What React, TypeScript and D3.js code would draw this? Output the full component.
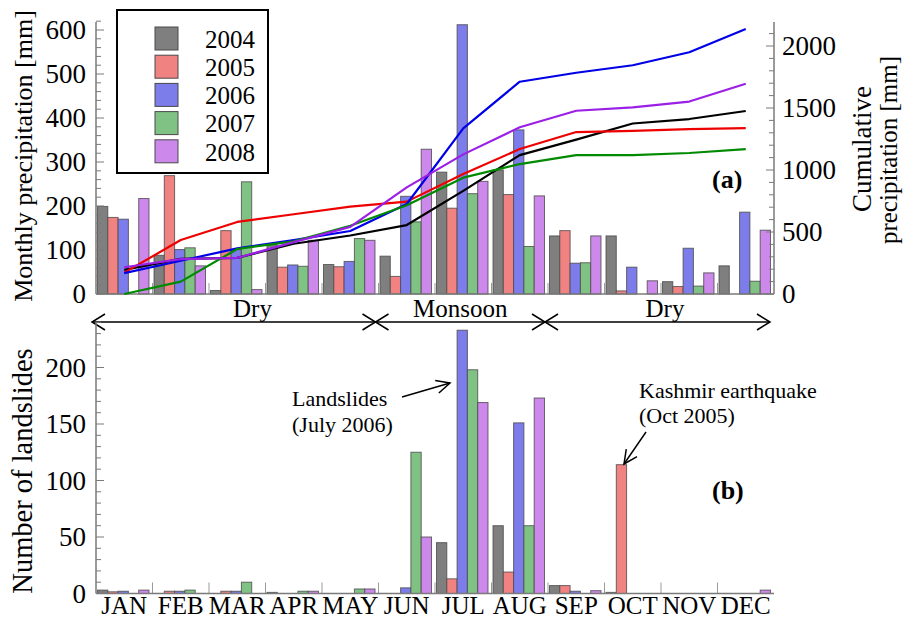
import * as d3 from 'd3';

// Monthly rainfall, cumulative rainfall and landslide counts, 2004-2008
const months = ['JAN', 'FEB', 'MAR', 'APR', 'MAY', 'JUN', 'JUL', 'AUG', 'SEP', 'OCT', 'NOV', 'DEC'];
const years = ['2004', '2005', '2006', '2007', '2008'];

const monthly2004 = [199, 88, 8, 112, 67, 86, 277, 282, 132, 132, 28, 64];
const monthly2005 = [174, 269, 144, 61, 62, 40, 195, 226, 144, 7, 17, 0];
const monthly2006 = [170, 101, 101, 66, 74, 222, 612, 373, 70, 61, 104, 186];
const monthly2007 = [0, 105, 255, 63, 126, 164, 228, 108, 71, 0, 18, 29];
const monthly2008 = [217, 64, 10, 122, 122, 329, 256, 223, 132, 30, 48, 145];

const cumul2004 = [195, 283, 291, 405, 472, 556, 832, 1120, 1245, 1375, 1411, 1476];
const cumul2005 = [172, 435, 581, 643, 705, 745, 968, 1169, 1306, 1315, 1330, 1338];
const cumul2006 = [168, 268, 368, 435, 508, 726, 1335, 1712, 1784, 1845, 1950, 2137];
const cumul2007 = [0, 100, 363, 425, 550, 716, 938, 1048, 1120, 1120, 1137, 1168];
const cumul2008 = [216, 281, 291, 418, 541, 860, 1126, 1345, 1478, 1505, 1552, 1696];

const slides2004 = [3, 0, 0, 1, 0, 0, 45, 60, 7, 1, 0, 0];
const slides2005 = [1.5, 2, 2, 0, 0, 0, 13, 19, 7, 114, 0, 0];
const slides2006 = [2, 2, 2, 0, 0, 5, 233, 151, 2, 0, 0, 0];
const slides2007 = [0, 3, 10, 2, 4, 125, 198, 60, 0, 0, 0, 0];
const slides2008 = [3, 0, 0, 2, 4, 50, 169, 173, 2.5, 0, 0, 3];

const monthlyByYear = [monthly2004, monthly2005, monthly2006, monthly2007, monthly2008];
const cumulByYear = [cumul2004, cumul2005, cumul2006, cumul2007, cumul2008];
const slidesByYear = [slides2004, slides2005, slides2006, slides2007, slides2008];

const leftTicksA = [0, 100, 200, 300, 400, 500, 600];
const rightTicksA = [0, 500, 1000, 1500, 2000];
const leftTicksB = [0, 50, 100, 150, 200];

const barFill = ['#7f7f7f', '#f08282', '#7c7cea', '#80c184', '#cc88ea'];
const lineColor = ['#000000', '#ee0000', '#0000e6', '#008a00', '#9b20e6'];

const FONT = '"Liberation Serif", "Times New Roman", serif';
const AXIS = '#7a7a7a';

const App = () => {
  const width = 906;
  const height = 619;

  const x = d3.scaleBand<string>().domain(months).range([96, 774]);
  const xi = d3.scaleBand<string>().domain(years).range([1.5, 53]);
  const mid = (m: string) => (x(m) || 0) + x.bandwidth() / 2;

  const yA = d3.scaleLinear().domain([0, 600]).range([294, 30]);
  const yR = d3.scaleLinear().domain([0, 2000]).range([294, 46]);
  const yB = d3.scaleLinear().domain([0, 200]).range([593.5, 367.5]);

  const line = d3.line<number>()
    .x((_, i) => mid(months[i]))
    .y(d => yR(d));

  const boundaries = d3.range(1, 12).map(i => x(months[i]) || 0);

  const leftAxis = (scale: d3.ScaleLinear<number, number>, top: number, max: number, step: number, majors: number[]) => (
    <g>
      <line x1={96} x2={96} y1={top} y2={scale(0)} stroke={AXIS} strokeWidth={1.5} />
      {d3.range(0, max + 0.001, step).map(v => (
        <line key={'m' + v} x1={96} x2={majors.includes(v) ? 104 : 101} y1={scale(v)} y2={scale(v)} stroke={AXIS} strokeWidth={1} />
      ))}
      {majors.map(v => (
        <text key={'t' + v} x={86} y={scale(v)} dy="0.35em" textAnchor="end" fontSize={27}>{v}</text>
      ))}
    </g>
  );

  const bars = (data: number[][], scale: d3.ScaleLinear<number, number>) =>
    data.map((vals, yi) =>
      vals.map((v, mi) => v > 0 ? (
        <rect
          key={`${yi}-${mi}`}
          x={(x(months[mi]) || 0) + (xi(years[yi]) || 0)}
          y={scale(v)}
          width={xi.bandwidth()}
          height={scale(0) - scale(v)}
          fill={barFill[yi]}
          stroke="#4a4a4a"
          strokeOpacity={0.8}
          strokeWidth={1}
        />
      ) : null)
    );

  const separators = (base: number) => boundaries.map((bx, i) => (
    <line key={'s' + i} x1={bx} x2={bx} y1={base} y2={base - 11} stroke="#9a9a9a" strokeWidth={1} />
  ));

  const arrowHead = (px: number, py: number, dir: number) => (
    <path d={`M${px + dir * 13},${py - 8}L${px},${py}L${px + dir * 13},${py + 8}`} fill="none" stroke="#000" strokeWidth={1.5} />
  );

  const seasonArrow = (x1: number, x2: number, tx: number, label: string, key: string) => (
    <g key={key}>
      <line x1={x1} x2={x2} y1={322} y2={322} stroke="#000" strokeWidth={1.5} />
      {arrowHead(x1, 322, 1)}
      {arrowHead(x2, 322, -1)}
      <text x={tx} y={317} textAnchor="middle" fontSize={25}>{label}</text>
    </g>
  );

  const pointer = (x1: number, y1: number, x2: number, y2: number) => {
    const a = Math.atan2(y2 - y1, x2 - x1);
    const l = 15;
    const s = 0.45;
    const p1 = [x2 - l * Math.cos(a - s), y2 - l * Math.sin(a - s)];
    const p2 = [x2 - l * Math.cos(a + s), y2 - l * Math.sin(a + s)];
    return (
      <g>
        <line x1={x1} y1={y1} x2={x2} y2={y2} stroke="#000" strokeWidth={1.5} />
        <path d={`M${p1[0]},${p1[1]}L${x2},${y2}L${p2[0]},${p2[1]}`} fill="none" stroke="#000" strokeWidth={1.5} />
      </g>
    );
  };

  return (
    <svg width={width} height={height} style={{ position: 'absolute', left: 0, top: 0, fontFamily: FONT }} fontFamily={FONT}>
      <rect width={width} height={height} fill="#fff" />

      {/* (a) monthly precipitation */}
      {bars(monthlyByYear, yA)}
      {separators(294)}
      <line x1={96} x2={774} y1={294} y2={294} stroke={AXIS} strokeWidth={1.5} />
      {cumulByYear.map((vals, yi) => (
        <path key={'l' + yi} d={line(vals) || ''} fill="none" stroke={lineColor[yi]} strokeWidth={2.2} strokeLinejoin="round" />
      ))}
      {leftAxis(yA, 22, 620, 20, leftTicksA)}

      <g>
        <line x1={774} x2={774} y1={22} y2={294} stroke={AXIS} strokeWidth={1.5} />
        {d3.range(0, 2101, 100).map(v => (
          <line key={'r' + v} x1={774} x2={rightTicksA.includes(v) ? 766 : 769} y1={yR(v)} y2={yR(v)} stroke={AXIS} strokeWidth={1} />
        ))}
        {rightTicksA.map(v => (
          <text key={'rt' + v} x={782} y={yR(v)} dy="0.35em" fontSize={27}>{v}</text>
        ))}
      </g>

      <text transform="translate(32,156) rotate(-90)" textAnchor="middle" fontSize={26}>Monthly precipitation [mm]</text>
      <text transform="translate(871,149) rotate(-90)" textAnchor="middle" fontSize={27}>Cumulative</text>
      <text transform="translate(897,150) rotate(-90)" textAnchor="middle" fontSize={25}>precipitation [mm]</text>
      <text x={712} y={188} fontSize={26} fontWeight="bold">(a)</text>

      <g>
        <rect x={117} y={10} width={151} height={163} fill="#fff" stroke="#000" strokeWidth={2} />
        {years.map((yr, i) => (
          <g key={'lg' + yr}>
            <rect x={155} y={27 + i * 28.2} width={23} height={23} fill={barFill[i]} stroke="#4a4a4a" strokeWidth={1} />
            <text x={205} y={39 + i * 28.2} dy="0.35em" fontSize={25}>{yr}</text>
          </g>
        ))}
      </g>

      {/* season arrows */}
      {seasonArrow(92, (x('JUN') || 0) - 3, (x('APR') || 0) - 13, 'Dry', 'd1')}
      {seasonArrow((x('JUN') || 0) - 3, (x('SEP') || 0) - 3, mid('JUL') - 3, 'Monsoon', 'mo')}
      {seasonArrow((x('SEP') || 0) - 3, 770, (x('NOV') || 0) + 4, 'Dry', 'd2')}

      {/* (b) landslides */}
      {bars(slidesByYear, yB)}
      {separators(593.5)}
      <line x1={96} x2={774} y1={593.5} y2={593.5} stroke={AXIS} strokeWidth={1.5} />
      {leftAxis(yB, 322, 240, 10, leftTicksB)}
      <text transform="translate(32,471) rotate(-90)" textAnchor="middle" fontSize={28.5}>Number of landslides</text>
      {months.map(m => (
        <text key={'ml' + m} x={mid(m)} y={614} textAnchor="middle" fontSize={25}>{m}</text>
      ))}
      <text x={712} y={499} fontSize={26} fontWeight="bold">(b)</text>

      <text x={292} y={406} fontSize={22}>Landslides</text>
      <text x={292} y={432} fontSize={22}>(July 2006)</text>
      {pointer(402, 397, 450, 383)}

      <text x={639} y={398} fontSize={22}>Kashmir earthquake</text>
      <text x={639} y={423} fontSize={22}>(Oct 2005)</text>
      {pointer(646, 432, 624, 464)}
    </svg>
  );
};

export default App;
